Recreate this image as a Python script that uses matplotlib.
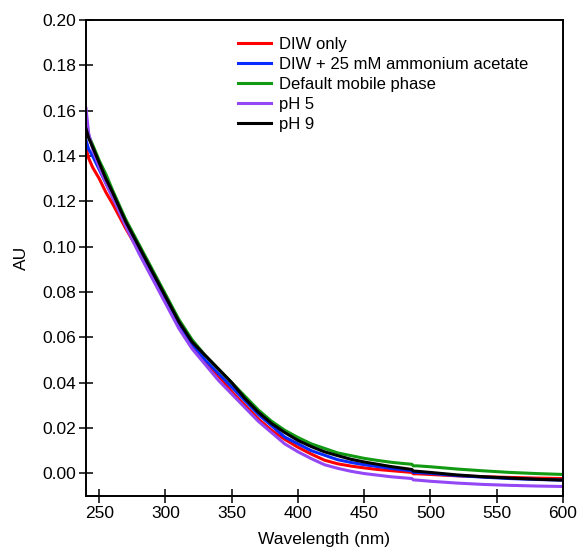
import matplotlib
matplotlib.use("Agg")
import matplotlib.pyplot as plt
import numpy as np

plt.rcParams['font.family'] = ['Liberation Sans', 'DejaVu Sans']

# wavelength grid (nm) and absorbance
wl = [240, 242, 245, 250, 255, 260, 270, 280, 290, 300, 310, 320, 330, 340,
      350, 360, 370, 380, 390, 400, 410, 420, 430, 440, 450, 460, 470, 480,
      486, 487, 490, 500, 520, 540, 560, 580, 600]

diw_only = [0.1435, 0.139, 0.135, 0.130, 0.124, 0.119, 0.108, 0.098, 0.087, 0.076,
            0.065, 0.056, 0.049, 0.043, 0.036, 0.030, 0.024, 0.019, 0.015, 0.0115,
            0.0085, 0.0058, 0.0042, 0.0032, 0.0024, 0.0017, 0.0012, 0.0007,
            0.0004, -0.0002, -0.0002, -0.0005, -0.0011, -0.0015, -0.0018, -0.0021, -0.0023]

diw_amac = [0.147, 0.143, 0.140, 0.134, 0.128, 0.122, 0.110, 0.099, 0.088, 0.077,
            0.066, 0.057, 0.050, 0.044, 0.038, 0.032, 0.026, 0.021, 0.016, 0.013,
            0.010, 0.008, 0.006, 0.0048, 0.0038, 0.003, 0.0022, 0.0015,
            0.0011, 0.0004, 0.0004, 0.0, -0.0010, -0.0017, -0.0023, -0.0027, -0.0030]

default_mp = [0.153, 0.149, 0.145, 0.138, 0.132, 0.125, 0.112, 0.101, 0.090, 0.079,
              0.068, 0.059, 0.052, 0.046, 0.040, 0.034, 0.028, 0.023, 0.019, 0.0158,
              0.013, 0.011, 0.009, 0.0078, 0.0066, 0.0057, 0.0049, 0.0043,
              0.004, 0.0033, 0.0033, 0.0029, 0.0019, 0.0011, 0.0004, -0.0001, -0.0005]

ph5 = [0.161, 0.150, 0.143, 0.135, 0.128, 0.122, 0.109, 0.097, 0.086, 0.075,
       0.064, 0.055, 0.048, 0.041, 0.035, 0.029, 0.023, 0.018, 0.013, 0.0095,
       0.0065, 0.0038, 0.0022, 0.0009, -0.0001, -0.0008, -0.0015, -0.002,
       -0.0023, -0.0029, -0.003, -0.0035, -0.0043, -0.0049, -0.0053, -0.0056, -0.0058]

ph9 = [0.152, 0.148, 0.144, 0.137, 0.130, 0.124, 0.111, 0.100, 0.089, 0.078,
       0.067, 0.058, 0.052, 0.046, 0.040, 0.033, 0.027, 0.022, 0.018, 0.0145,
       0.0118, 0.0095, 0.0078, 0.0062, 0.005, 0.004, 0.003, 0.0022,
       0.0017, 0.0010, 0.0009, 0.0004, -0.0007, -0.0015, -0.0021, -0.0026, -0.003]

labels = ['DIW only', 'DIW + 25 mM ammonium acetate', 'Default mobile phase', 'pH 5', 'pH 9']
colors = ['#ff0000', '#0a2bff', '#129a12', '#9447f5', '#000000']
series = [diw_only, diw_amac, default_mp, ph5, ph9]

fig = plt.figure(figsize=(5.8, 5.58), dpi=100)
ax = fig.add_axes([86/580, 1 - 496/558, 477/580, 476/558])

for y, c, lab in zip(series, colors, labels):
    ax.plot(wl, y, color=c, lw=2.2, label=lab)

ax.set_xlim(240, 600)
ax.set_ylim(-0.01, 0.20)
ax.set_xticks(np.arange(250, 601, 50))
ax.set_yticks(np.arange(0, 0.201, 0.02))
ax.set_yticklabels(['%.2f' % v for v in np.arange(0, 0.201, 0.02)])

ax.tick_params(direction='inout', length=10, width=1.1, labelsize=12.5, pad=2)
for s in ax.spines.values():
    s.set_linewidth(1.4)

ax.set_xlabel('Wavelength (nm)', fontsize=12.5, labelpad=8)
ax.set_ylabel('AU', fontsize=12.5, labelpad=10)

ax.legend(loc='upper left', bbox_to_anchor=(0.318, 0.965), frameon=False,
          fontsize=12, borderpad=0, borderaxespad=0, handlelength=2.0,
          handletextpad=0.5, labelspacing=0.3)

fig.savefig('out.png', dpi=100)
